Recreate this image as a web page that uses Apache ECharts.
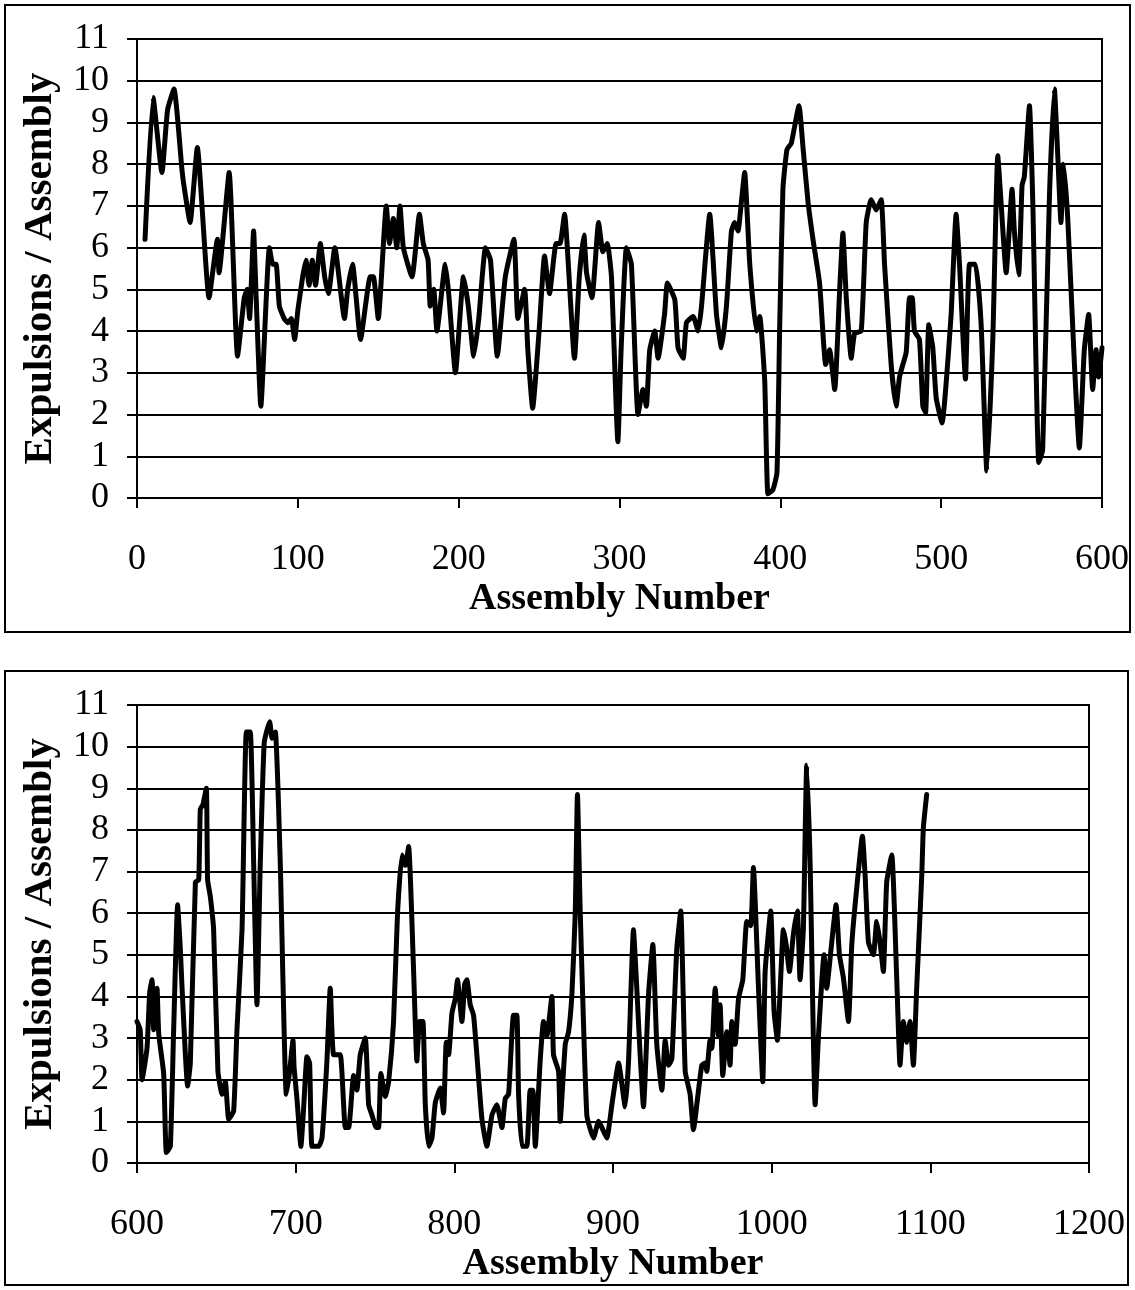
<!DOCTYPE html>
<html>
<head>
<meta charset="utf-8">
<script src="https://cdn.jsdelivr.net/npm/echarts@6/dist/echarts.min.js"></script>
<style>
  html, body { margin: 0; padding: 0; background: #fff; }
  #chart { width: 1135px; height: 1290px; }
</style>
</head>
<body>
<div id="chart"></div>
<script>
// ---------- Data ----------
const topAssembly = [5,10,15.5,19,23,28,29.5,33,37.5,44.8,50,51,57.3,62.5,66.7,68.5,70,72.5,74,77,82.3,84.4,86.5,88.5,91.5,93.8,96,98,100,103,105,107,109,111,114,116.7,119,123,129,131,134,139,145,147,150,155,157,159.4,161.5,163.5,165.6,171,175.6,178,181,182.3,184.5,186.5,191.7,193.8,198,203,206,209.4,212.5,216.7,219.8,224,229,234.4,236.8,241,243,246,250,253.4,256.5,260.6,263,265.8,272,275,277.9,279.5,282.9,287,289.7,292.4,295,299,301,304.3,307.4,311.5,314.6,316.7,318.8,321.9,324,328,329.8,334.4,336.4,339.6,341.6,345.8,348.9,351,356.1,360.3,363.4,366.5,369.6,371.6,373.7,375.8,377.8,381,385.1,387.2,390.3,392.3,395.4,397.9,399.6,401.6,404.1,406.8,411.6,414.1,417.2,420.3,424.4,428.2,430.6,433.8,436.9,438.9,441,444.1,446.2,450.3,453.4,456.5,459.6,462.7,464.8,468.9,472,474.1,476.2,478.3,480.3,482,483.4,486.5,488.6,490.3,492.3,494.8,496.9,500.6,503.1,506.2,509.3,511.4,515.1,517.6,521.3,524.8,528.4,532.1,535.2,537.3,540.4,544.1,545.5,548.2,550.3,551.7,554.9,557,560.7,563.1,567.3,570.4,572.5,574.5,576,578.7,582.8,585.9,589,591.7,594.2,596.3,597.9,600];
const topExpulsions = [6.2,9.6,7.8,9.3,9.8,7.85,7.4,6.6,8.4,4.8,6.2,5.4,7.8,3.4,4.8,5.0,4.3,6.4,4.9,2.2,6.0,5.6,5.6,4.6,4.3,4.2,4.3,3.8,4.5,5.3,5.7,5.1,5.7,5.1,6.1,5.3,4.9,6.0,4.3,5.0,5.6,3.8,5.3,5.3,4.3,7.0,6.1,6.7,6.0,7.0,6.0,5.3,6.8,6.1,5.7,4.6,5.0,4.0,5.6,4.9,3.0,5.3,4.6,3.4,4.3,6.0,5.7,3.4,5.3,6.2,4.3,5.0,3.55,2.15,4.0,5.8,4.9,6.1,6.1,6.8,3.35,5.3,6.3,5.4,4.8,6.6,5.9,6.1,5.3,1.35,3.55,6.0,5.6,2.0,2.6,2.2,3.55,4.0,3.35,4.4,5.15,4.75,3.6,3.35,4.2,4.35,4.0,4.6,6.8,4.4,3.6,4.6,6.4,6.6,6.4,7.1,7.8,5.6,4.0,4.35,2.8,0.1,0.2,0.6,4.1,7.4,8.35,8.5,9.4,8.4,7.1,6.2,5.15,3.2,3.55,2.6,5.0,6.35,4.8,3.35,3.95,4.0,6.6,7.15,6.9,7.15,5.6,3.2,2.2,2.9,3.2,3.5,4.8,4.8,4.0,3.8,2.2,2.05,4.15,3.6,2.4,1.8,2.75,4.4,6.8,5.6,2.85,5.6,5.6,4.2,0.65,3.8,8.2,7.05,5.4,7.4,6.4,5.35,7.5,7.7,9.4,7.05,0.85,1.15,7.2,9.8,8.2,6.6,8.0,6.7,3.25,1.2,3.55,4.4,2.6,3.55,2.9,3.6];

const bottomAssembly = [600,602,603.2,606.3,608,609.5,610.5,612.6,613.7,616.8,618.5,621,623.1,625.6,627.3,628.4,631.9,633.6,636.8,638.9,639.9,641.5,643.7,644.5,646.2,648.3,651,653.6,655.7,657.8,660.9,663,666.2,668.9,671.4,673.5,675.6,677.7,680.2,683.6,685.1,687.2,690.3,694.1,696.2,698.3,699,700.8,703.3,705,707.1,708.8,710.3,714.5,716.6,719.7,721.8,723.9,728.1,731.3,733.4,736.5,738.6,740.7,743.9,746,748.1,750.8,752.3,753.7,756.5,758.6,761.7,764.2,767,769.1,771.2,774.3,776.4,778.1,780.2,781.7,783.8,785.9,788,791.1,793.2,794.9,796.4,798.5,800.6,802,804.8,806.5,807.9,810,812.1,814.2,817.4,820.5,823.7,826.8,830,832.1,834.2,837.3,839.4,840.5,842.6,845.7,847.8,849.5,851,854.1,856.2,858.3,861.5,862.5,865.7,866.7,869.9,872,874.1,876.2,877.6,879.3,883.5,887.7,890.9,893,896.1,899.3,901.4,903.5,907.7,909.8,912.9,914.6,917.1,919.2,922.4,925.1,927.6,930.8,932.9,935,937.1,940.2,942.7,945.5,948.6,950.7,953.9,956,958.1,959.1,961.2,962.3,964.4,966.5,967.5,969.2,971.7,973.8,974.9,977,979.1,981.8,984.3,986.8,988.5,991.7,994.4,995.9,999.4,1001.5,1003.6,1007.4,1009.1,1011.2,1013.7,1016.2,1017.9,1020,1022.1,1024.2,1027.4,1029.5,1033,1034.7,1037.2,1040.6,1042.7,1045.2,1048.4,1050.5,1053.6,1057.2,1058.9,1061,1064.1,1066.2,1068.3,1070.4,1072.5,1075.7,1078.8,1080.9,1083,1085.1,1087.2,1089.3,1091.4,1094.6,1095.6,1097.7];
const bottomExpulsions = [3.4,3.2,2.0,2.75,4.1,4.4,3.2,4.2,3.1,2.15,0.25,0.4,3.2,6.2,5.15,4.2,1.85,2.4,6.75,6.8,8.5,8.6,9.0,6.8,6.4,5.6,2.2,1.65,1.95,1.05,1.25,3.2,5.6,10.35,10.35,7.25,3.8,7.2,10.1,10.6,10.2,10.35,7.2,1.65,2.2,2.95,2.3,1.55,0.4,1.3,2.55,2.4,0.4,0.4,0.6,2.45,4.2,2.6,2.6,0.85,0.85,2.1,1.75,2.6,3.0,1.4,1.15,0.85,0.85,2.15,1.6,1.95,3.4,6.0,7.4,7.15,7.6,4.65,2.45,3.4,3.4,1.4,0.4,0.6,1.45,1.8,1.2,2.9,2.6,3.6,3.95,4.4,3.4,4.3,4.4,3.8,3.55,2.6,1.05,0.4,1.15,1.4,0.85,1.55,1.65,3.55,3.55,1.65,0.4,0.4,1.75,1.75,0.4,2.45,3.4,3.05,4.0,2.6,2.2,1.0,2.85,3.15,4.05,6.0,8.85,6.1,1.15,0.6,1.0,0.85,0.6,1.4,1.95,2.4,1.35,2.45,5.6,4.5,2.6,1.35,4.05,5.25,2.85,1.75,2.95,2.35,2.5,5.15,6.05,2.2,1.65,0.8,1.75,2.35,2.4,2.2,2.95,2.75,4.2,3.05,3.8,2.1,3.15,2.35,3.4,2.85,3.95,4.4,5.8,5.7,7.1,4.2,1.95,4.6,6.05,3.65,2.95,5.6,5.25,4.6,5.5,6.05,4.4,5.65,9.55,7.25,1.4,3.05,5.0,4.2,5.05,6.2,5.0,4.45,3.4,5.25,6.6,7.85,6.9,5.3,5.0,5.8,5.3,4.6,6.75,7.4,4.45,2.35,3.4,2.9,3.4,2.35,4.2,6.9,8.05,8.85];

const yTicks = [0,1,2,3,4,5,6,7,8,9,10,11];
const topXRange = [0, 600];
const bottomXRange = [600, 1200];
const xTitle = 'Assembly Number';
const yTitle = 'Expulsions / Assembly';

// ---------- Build ----------
const pairs = (xs, ys) => xs.map((x, i) => [x, ys[i]]);
const FONT = '"Liberation Serif", "Times New Roman", serif';

function xAxisCfg(gridIndex, range) {
  return {
    type: 'value', gridIndex, min: range[0], max: range[1], interval: 100,
    axisLine: { show: true, lineStyle: { color: '#000', width: 2 } },
    axisTick: { show: true, length: 10, lineStyle: { color: '#000', width: 2 } },
    splitLine: { show: false },
    axisLabel: { color: '#000', fontFamily: FONT, fontSize: 36, margin: 44, formatter: v => String(v) },
    name: xTitle, nameLocation: 'middle', nameGap: 82,
    nameTextStyle: { color: '#000', fontFamily: FONT, fontSize: 38, fontWeight: 'bold' }
  };
}
function yAxisCfg(gridIndex) {
  return {
    type: 'value', gridIndex, min: yTicks[0], max: yTicks[yTicks.length - 1], interval: 1,
    axisLine: { show: true, lineStyle: { color: '#000', width: 2 } },
    axisTick: { show: true, length: 10, lineStyle: { color: '#000', width: 2 } },
    splitLine: { show: true, lineStyle: { color: '#000', width: 2 } },
    axisLabel: { color: '#000', fontFamily: FONT, fontSize: 36, margin: 28, padding: [12, 0, 0, 0], formatter: v => String(v) },
    name: yTitle, nameLocation: 'middle', nameGap: 76,
    nameTextStyle: { color: '#000', fontFamily: FONT, fontSize: 41, fontWeight: 'bold' }
  };
}
function lineSeries(idx, data) {
  return {
    type: 'line', xAxisIndex: idx, yAxisIndex: idx, data,
    showSymbol: false, symbol: 'none', smooth: 0.15,
    lineStyle: { color: '#000', width: 5, join: 'round', cap: 'round' },
    animation: false, silent: true
  };
}

const chart = echarts.init(document.getElementById('chart'), null, { renderer: 'canvas' });
chart.setOption({
  backgroundColor: '#fff',
  animation: false,
  graphic: [
    { type: 'rect', shape: { x: 5, y: 5, width: 1125, height: 627 }, style: { fill: 'none', stroke: '#000', lineWidth: 2 }, z: 100 },
    { type: 'rect', shape: { x: 5, y: 671, width: 1123, height: 614 }, style: { fill: 'none', stroke: '#000', lineWidth: 2 }, z: 100 }
  ],
  grid: [
    { left: 137, top: 39, width: 965, height: 459, show: true, borderColor: '#000', borderWidth: 2, backgroundColor: 'transparent' },
    { left: 137, top: 705, width: 952, height: 458, show: true, borderColor: '#000', borderWidth: 2, backgroundColor: 'transparent' }
  ],
  xAxis: [xAxisCfg(0, topXRange), xAxisCfg(1, bottomXRange)],
  yAxis: [yAxisCfg(0), yAxisCfg(1)],
  series: [
    lineSeries(0, pairs(topAssembly, topExpulsions)),
    lineSeries(1, pairs(bottomAssembly, bottomExpulsions))
  ]
});
</script>
</body>
</html>
